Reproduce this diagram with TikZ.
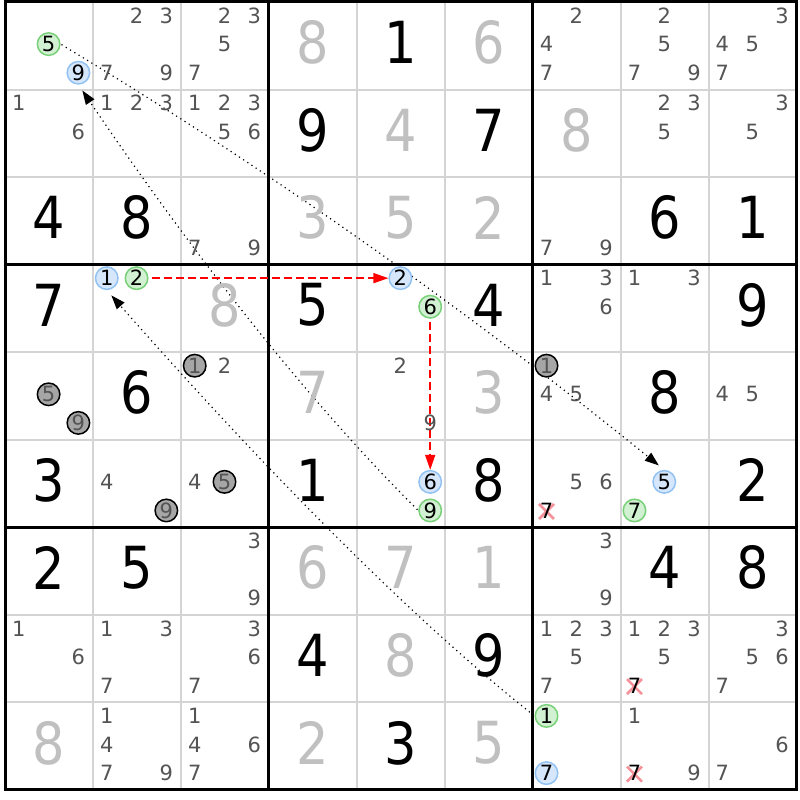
\documentclass[tikz,border=0pt]{standalone}
\usepackage{fontspec}
\setmainfont{DejaVu Sans}
\newfontfamily\bigf{DejaVu Sans}[FakeStretch=0.88]
\usetikzlibrary{arrows.meta}
\pgfdeclarelayer{bg}
\pgfsetlayers{bg,main}
\definecolor{candc}{RGB}{84,84,84}
\definecolor{givenc}{RGB}{192,192,192}
\definecolor{thinc}{RGB}{212,212,212}
\definecolor{gfill}{RGB}{210,241,210}
\definecolor{gline}{RGB}{120,208,120}
\definecolor{bfill}{RGB}{214,231,252}
\definecolor{bline}{RGB}{146,194,242}
\definecolor{kfill}{RGB}{166,166,166}
\definecolor{xcol}{RGB}{245,145,152}
\newcommand\candxy[3]{%
 \pgfmathsetmacro\px{5+(#2-1)*87.95+13.8+29.8*mod(#3-1,3)}%
 \pgfmathsetmacro\py{2+(#1-1)*87.55+13.5+28.6*floor((#3-1)/3)}%
}
\newcommand\cands[3]{%
 \foreach \dd in {#3}{\candxy{#1}{#2}{\dd}\node[cand] (n#1#2\dd) at (\px,\py) {\dd};}%
}
\newcommand\bigd[4]{%
 \pgfmathsetmacro\px{5+(#3-1)*87.95+43.8}%
 \pgfmathsetmacro\py{2+(#2-1)*87.55+40.5}%
 \node[#1] (v#2#3) at (\px,\py) {#4};%
}
\newcommand\hl[5]{%
 \candxy{#3}{#4}{#5}\node[#1] (#2) at (\px,\py) {#5};%
}
\newcommand\xcand[3]{%
 \candxy{#1}{#2}{#3}%
 \draw[xmark] (\px-7.5,\py-6.5) -- (\px+7.5,\py+8.5) (\px-7.5,\py+8.5) -- (\px+7.5,\py-6.5);%
 \node[xcand] (x#1#2#3) at (\px,\py) {#3};%
}
\tikzset{
 cand/.style={text=candc,inner sep=0pt,font=\fontsize{21}{24}\selectfont},
 xcand/.style={text=black,inner sep=0pt,font=\fontsize{21}{24}\selectfont},
 xmark/.style={draw=xcol,line width=2.6pt},
 given/.style={text=givenc,inner sep=0pt,font=\bigf\fontsize{58}{60}\selectfont},
 solved/.style={text=black,inner sep=0pt,font=\bigf\fontsize{58}{60}\selectfont},
 circ/.style={circle,minimum size=22.5pt,inner sep=0pt,line width=1.5pt,font=\fontsize{21}{24}\selectfont},
 gc/.style={circ,draw=gline,fill=gfill,text=black},
 bc/.style={circ,draw=bline,fill=bfill,text=black},
 kc/.style={circ,draw=black,fill=kfill,text=candc},
 thingrid/.style={draw=thinc,line width=2pt},
 thickgrid/.style={draw=black,line width=3pt},
 dotlink/.style={draw=black,line width=1.2pt,dash pattern=on 1.2pt off 3.8pt,
   -{Triangle[length=14pt,width=10pt]},shorten >=7pt,shorten <=1pt},
 redlink/.style={draw=red,line width=1.5pt,dash pattern=on 8pt off 4pt,
   -{Triangle[length=15pt,width=10pt]},shorten <=3pt}
}
\begin{document}
\begin{tikzpicture}[x=1pt,y=-1pt]
\useasboundingbox (0,0) rectangle (800,800);
\begin{pgfonlayer}{bg}
\fill[white] (0,0) rectangle (800,800);
\foreach \i in {1,2,4,5,7,8}{
  \draw[thingrid] (5+\i*87.95,2) -- (5+\i*87.95,789.95);
  \draw[thingrid] (5,2+\i*87.55) -- (796.55,2+\i*87.55);
}
\foreach \i in {3,6}{
  \draw[thickgrid] (5+\i*87.95,2) -- (5+\i*87.95,789.95);
  \draw[thickgrid] (5,2+\i*87.55) -- (796.55,2+\i*87.55);
}
\draw[thickgrid] (5,2) rectangle (796.55,789.95);
\end{pgfonlayer}
% row 1
\hl{gc}{g5}{1}{1}{5} \hl{bc}{b9}{1}{1}{9}
\cands{1}{2}{2,3,7,9} \cands{1}{3}{2,3,5,7}
\bigd{given}{1}{4}{8} \bigd{solved}{1}{5}{1} \bigd{given}{1}{6}{6}
\cands{1}{7}{2,4,7} \cands{1}{8}{2,5,7,9} \cands{1}{9}{3,4,5,7}
% row 2
\cands{2}{1}{1,6} \cands{2}{2}{1,2,3} \cands{2}{3}{1,2,3,5,6}
\bigd{solved}{2}{4}{9} \bigd{given}{2}{5}{4} \bigd{solved}{2}{6}{7} \bigd{given}{2}{7}{8}
\cands{2}{8}{2,3,5} \cands{2}{9}{3,5}
% row 3
\bigd{solved}{3}{1}{4} \bigd{solved}{3}{2}{8} \cands{3}{3}{7,9}
\bigd{given}{3}{4}{3} \bigd{given}{3}{5}{5} \bigd{given}{3}{6}{2}
\cands{3}{7}{7,9} \bigd{solved}{3}{8}{6} \bigd{solved}{3}{9}{1}
% row 4
\bigd{solved}{4}{1}{7} \hl{bc}{b1}{4}{2}{1} \hl{gc}{g2}{4}{2}{2} \bigd{given}{4}{3}{8}
\bigd{solved}{4}{4}{5} \hl{bc}{b2}{4}{5}{2} \hl{gc}{g6}{4}{5}{6} \bigd{solved}{4}{6}{4}
\cands{4}{7}{1,3,6} \cands{4}{8}{1,3} \bigd{solved}{4}{9}{9}
% row 5
\hl{kc}{k51a}{5}{1}{5} \hl{kc}{k51b}{5}{1}{9} \bigd{solved}{5}{2}{6}
\hl{kc}{k53}{5}{3}{1} \cands{5}{3}{2}
\bigd{given}{5}{4}{7} \cands{5}{5}{2,9} \bigd{given}{5}{6}{3}
\hl{kc}{k57}{5}{7}{1} \cands{5}{7}{4,5} \bigd{solved}{5}{8}{8} \cands{5}{9}{4,5}
% row 6
\bigd{solved}{6}{1}{3} \cands{6}{2}{4} \hl{kc}{k62}{6}{2}{9}
\cands{6}{3}{4} \hl{kc}{k63}{6}{3}{5}
\bigd{solved}{6}{4}{1} \hl{bc}{b6}{6}{5}{6} \hl{gc}{g9}{6}{5}{9} \bigd{solved}{6}{6}{8}
\cands{6}{7}{5,6} \xcand{6}{7}{7}
\hl{bc}{b5}{6}{8}{5} \hl{gc}{g7}{6}{8}{7} \bigd{solved}{6}{9}{2}
% row 7
\bigd{solved}{7}{1}{2} \bigd{solved}{7}{2}{5} \cands{7}{3}{3,9}
\bigd{given}{7}{4}{6} \bigd{given}{7}{5}{7} \bigd{given}{7}{6}{1}
\cands{7}{7}{3,9} \bigd{solved}{7}{8}{4} \bigd{solved}{7}{9}{8}
% row 8
\cands{8}{1}{1,6} \cands{8}{2}{1,3,7} \cands{8}{3}{3,6,7}
\bigd{solved}{8}{4}{4} \bigd{given}{8}{5}{8} \bigd{solved}{8}{6}{9}
\cands{8}{7}{1,2,3,5,7} \cands{8}{8}{1,2,3,5} \xcand{8}{8}{7} \cands{8}{9}{3,5,6,7}
% row 9
\bigd{given}{9}{1}{8} \cands{9}{2}{1,4,7,9} \cands{9}{3}{1,4,6,7}
\bigd{given}{9}{4}{2} \bigd{solved}{9}{5}{3} \bigd{given}{9}{6}{5}
\hl{gc}{g1}{9}{7}{1} \hl{bc}{b7}{9}{7}{7} \cands{9}{8}{1,9} \xcand{9}{8}{7} \cands{9}{9}{6,7}
% links
\begin{pgfonlayer}{bg}
\draw[dotlink] (g5.east) .. controls (260,164) and (462,306) .. (b5.north);
\draw[dotlink] (g9.west) .. controls (310,403) and (197,260) .. (b9.south);
\draw[dotlink] (g1.west) .. controls (418,624) and (275,481) .. (b1.south);
\draw[redlink] (g2) -- (b2);
\draw[redlink] (g6) -- (b6);
\end{pgfonlayer}
\end{tikzpicture}
\end{document}
